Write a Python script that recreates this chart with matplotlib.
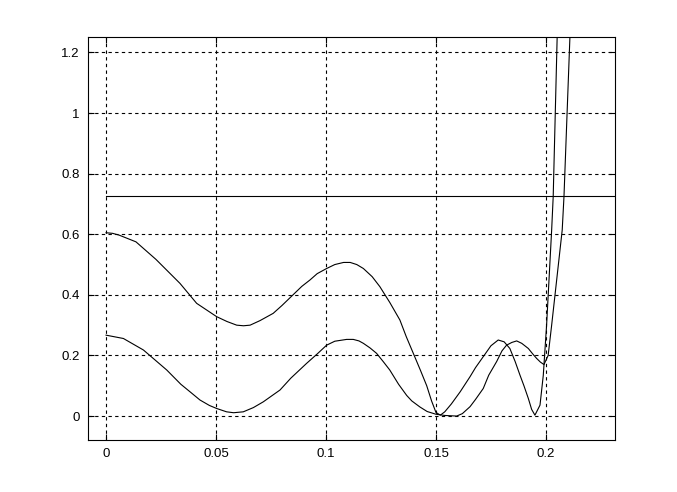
import matplotlib
matplotlib.use("Agg")
import matplotlib.pyplot as plt

# Upper curve (starts at 0.6)
xa = [0.0, 0.003, 0.006, 0.0136, 0.0227, 0.0336, 0.0412, 0.0503, 0.055, 0.0594,
      0.0625, 0.0655, 0.070, 0.076, 0.080, 0.085, 0.089, 0.0927, 0.096, 0.1003,
      0.104, 0.108, 0.111, 0.114, 0.117, 0.121, 0.1245, 0.129, 0.1336, 0.1365,
      0.1397, 0.143, 0.1458, 0.148, 0.150, 0.152, 0.154, 0.157, 0.161, 0.1655,
      0.168, 0.1715, 0.175, 0.1783, 0.181, 0.1836, 0.186, 0.1882, 0.190, 0.192,
      0.1935, 0.195, 0.1973, 0.1988, 0.2003, 0.2026, 0.2033, 0.2051, 0.2060]
ya = [0.605, 0.603, 0.597, 0.575, 0.517, 0.438, 0.372, 0.328, 0.312, 0.300,
      0.298, 0.300, 0.315, 0.339, 0.365, 0.400, 0.428, 0.449, 0.470, 0.487,
      0.500, 0.507, 0.507, 0.500, 0.487, 0.460, 0.427, 0.375, 0.317, 0.262,
      0.207, 0.150, 0.100, 0.050, 0.012, 0.003, 0.014, 0.040, 0.080, 0.130,
      0.160, 0.196, 0.232, 0.251, 0.245, 0.223, 0.180, 0.135, 0.100, 0.058,
      0.022, 0.003, 0.036, 0.135, 0.300, 0.614, 0.724, 1.250, 1.400]

# Lower curve (starts at 0.27)
xb = [0.0, 0.0079, 0.017, 0.0276, 0.034, 0.0382, 0.0427, 0.047, 0.0503, 0.0548,
      0.058, 0.0624, 0.067, 0.0715, 0.075, 0.0791, 0.084, 0.0912, 0.096, 0.1003,
      0.104, 0.1094, 0.1124, 0.115, 0.117, 0.120, 0.123, 0.126, 0.129, 0.133,
      0.1367, 0.139, 0.1427, 0.146, 0.150, 0.154, 0.1594, 0.162, 0.1655, 0.168,
      0.1715, 0.174, 0.1776, 0.180, 0.1821, 0.1845, 0.1867, 0.189, 0.192, 0.194,
      0.1958, 0.1975, 0.1991, 0.201, 0.2026, 0.2074, 0.2082, 0.2109, 0.2115]
yb = [0.267, 0.256, 0.218, 0.152, 0.105, 0.080, 0.053, 0.035, 0.025, 0.014,
      0.011, 0.014, 0.028, 0.047, 0.065, 0.086, 0.125, 0.174, 0.205, 0.234,
      0.247, 0.253, 0.253, 0.248, 0.240, 0.225, 0.207, 0.180, 0.152, 0.105,
      0.068, 0.050, 0.030, 0.015, 0.006, 0.002, 0.000, 0.008, 0.031, 0.055,
      0.091, 0.135, 0.180, 0.215, 0.234, 0.243, 0.248, 0.240, 0.223, 0.205,
      0.190, 0.178, 0.170, 0.200, 0.300, 0.614, 0.724, 1.250, 1.350]

# Constant level
level = 0.725

x_ticks = [0, 0.05, 0.1, 0.15, 0.2]
x_labels = ["0", "0.05", "0.1", "0.15", "0.2"]
y_ticks = [0, 0.2, 0.4, 0.6, 0.8, 1.0, 1.2]
y_labels = ["0", "0.2", "0.4", "0.6", "0.8", "1", "1.2"]

plt.rcParams['font.family'] = ['Liberation Sans', 'DejaVu Sans']

fig = plt.figure(figsize=(6.77, 4.92), dpi=100)
ax = fig.add_axes([88/677, 1-440/492, (615-88)/677, (440-37)/492])

xlim = (-0.0082, 0.2314)
ylim = (-0.079, 1.251)

ax.plot(xa, ya, color='black', lw=0.8)
ax.plot(xb, yb, color='black', lw=0.8)
ax.plot([0, xlim[1]], [level, level], color='black', lw=0.8)

ax.set_xlim(*xlim)
ax.set_ylim(*ylim)
ax.set_xticks(x_ticks)
ax.set_xticklabels(x_labels)
ax.set_yticks(y_ticks)
ax.set_yticklabels(y_labels)
ax.tick_params(direction='in', length=4, width=0.8, labelsize=9.5, colors='black',
               top=True, right=True, pad=6)
ax.grid(True, color='black', linestyle=(0, (3, 3)), linewidth=0.8)
for s in ax.spines.values():
    s.set_linewidth(0.8)
    s.set_color('black')

fig.savefig("out.png", dpi=100, facecolor='white')
